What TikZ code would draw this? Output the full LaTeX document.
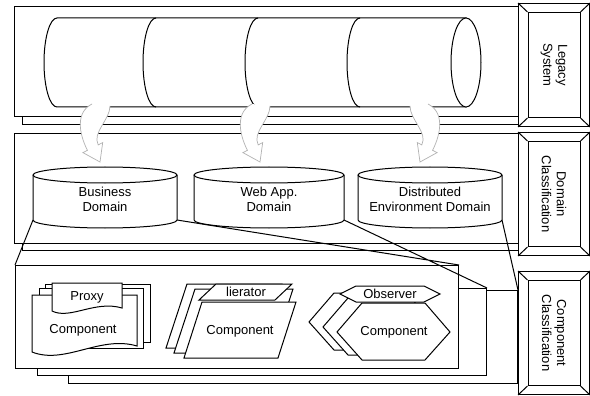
\documentclass[tikz,border=0pt]{standalone}
\usepackage{fontspec}
\setmainfont{Liberation Sans}
\tikzset{
    slab/.style={draw, fill=white, line width=1pt, anchor=north west, inner sep=0pt},
    tier/.style={draw, fill=white, line width=1pt, inner sep=0pt},
    part/.style={draw, fill=white, line width=1pt},
    edge/.style={line width=1pt},
    flow/.style={fill=white, draw=gray!60, line width=0.7pt},
    lbl/.style={font=\fontsize{13}{15}\selectfont, align=center, inner sep=0pt},
    flowarrow/.pic={
        \filldraw[flow] (-9,-1) .. controls (-25,7) and (-22.6,27.3) .. (-13.6,45.3)
            -- (-18.1,47.6) -- (-1,57) -- (1.7,37.6) -- (-2.8,39.9)
            .. controls (-9.1,27.3) and (9,15) .. (9,1);
    }
}

\begin{document}
\begin{tikzpicture}[x=1pt, y=-1pt]
    \useasboundingbox (0,0) rectangle (590,396);

    % legacy layer
    \node[slab, minimum width=504pt, minimum height=110pt] (legacyslab) at (14,6) {};
    \draw[edge] ([xshift=8pt]legacyslab.south west) |- ([yshift=-8pt]legacyslab.south east);
    \draw[part] (57,18) arc[start angle=270, end angle=90, x radius=13, y radius=44.5]
        -- (466,107) -- (466,18) -- cycle;
    \draw[part] (466,62.5) ellipse[x radius=15, y radius=44.5];
    \foreach \cx in {156,258,360}
        \draw[edge] (\cx,18) arc[start angle=270, end angle=90, x radius=13, y radius=44.5];

    % domain layer
    \node[slab, minimum width=504pt, minimum height=110pt] (domainslab) at (14,133) {};
    \draw[edge] ([xshift=8pt]domainslab.south west) |- ([yshift=-6pt]domainslab.south east);

    \pic at (101,105) {flowarrow};
    \pic at (261,105) {flowarrow};
    \pic[xscale=-1] at (419,105) {flowarrow};

    \foreach \cx/\w/\nm/\txt in {105/144/bus/{Business\\Domain}, 269/150/web/{Web App.\\Domain}, 430/144/dist/{Distributed\\Environment Domain}} {
        \draw[part] ({\cx-\w/2},175) -- ({\cx-\w/2},220) coordinate (\nm-bl)
            arc[start angle=180, end angle=0, x radius=\w/2, y radius=8] coordinate (\nm-br)
            -- ({\cx+\w/2},175);
        \draw[part] (\cx,175) ellipse[x radius=\w/2, y radius=8];
        \node[lbl] (\nm) at (\cx,199) {\txt};
    }

    % component layer
    \node[slab, minimum width=449pt, minimum height=93pt] (cback) at (68,290) {};
    \node[slab, minimum width=449pt, minimum height=87pt] (cmid) at (37,288) {};
    \node[slab, minimum width=443pt, minimum height=103pt] (cfront) at (15,265) {};
    \draw[edge] (bus-bl) -- (cfront.north west) (bus-br) -- (cfront.north east)
        (web-br) -- (cmid.north east) (dist-br) -- (cback.north east);

    % proxy
    \draw[part] (45,284) rectangle (150,342);
    \draw[part] (39,288) rectangle (143,348);
    \draw[part] (32,295) -- (137,295) -- (137,346) .. controls (100,335) and (65,365) .. (32,352) -- cycle;
    \draw[part] (52,283) -- (122,283) -- (122,308) .. controls (95,300) and (70,320) .. (52,311) -- cycle;
    \node[lbl] (proxy) at (87,297) {Proxy};
    \node[lbl] (proxycomp) at (83,330) {Component};

    % iterator
    \draw[part] (166,348) -- (187,284) -- (282,284) -- (261,348) -- cycle;
    \draw[part] (174,353) -- (195,289) -- (293,289) -- (272,353) -- cycle;
    \draw[part] (184,358) -- (202,302) -- (296,302) -- (278,358) -- cycle;
    \draw[part] (199,300) -- (216,284) -- (292,284) -- (275,300) -- cycle;
    \node[lbl] (iter) at (246,292) {lierator};
    \node[lbl] (itercomp) at (240,331) {Component};

    % observer
    \foreach \dx/\dy in {-28/-10, -14/-5, 0/0}
        \draw[part, shift={(\dx,\dy)}] (337,332) -- (362,303) -- (425,303) -- (450,332) -- (425,360) -- (362,360) -- cycle;
    \draw[part] (340,294) -- (356,286) -- (424,286) -- (440,294) -- (424,302) -- (356,302) -- cycle;
    \node[lbl] (obs) at (390,294) {Observer};
    \node[lbl] (obscomp) at (394,332) {Component};

    % tier labels on the right
    \foreach \nm/\ytop/\txt in {legacy/3/{Legacy\\System}, domain/132/{Domain\\Classification}, comp/271/{Component\\Classification}} {
        \node[tier, anchor=north west, minimum width=71pt, minimum height=123pt] (\nm-tier) at (518,\ytop) {};
        \node[tier, minimum width=52pt, minimum height=105pt] (\nm-in) at (\nm-tier.center) {};
        \foreach \c in {north west, north east, south west, south east}
            \draw[line width=1pt] (\nm-tier.\c) -- (\nm-in.\c);
        \node[lbl, rotate=-90] at (\nm-in.center) {\txt};
    }
\end{tikzpicture}
\end{document}
